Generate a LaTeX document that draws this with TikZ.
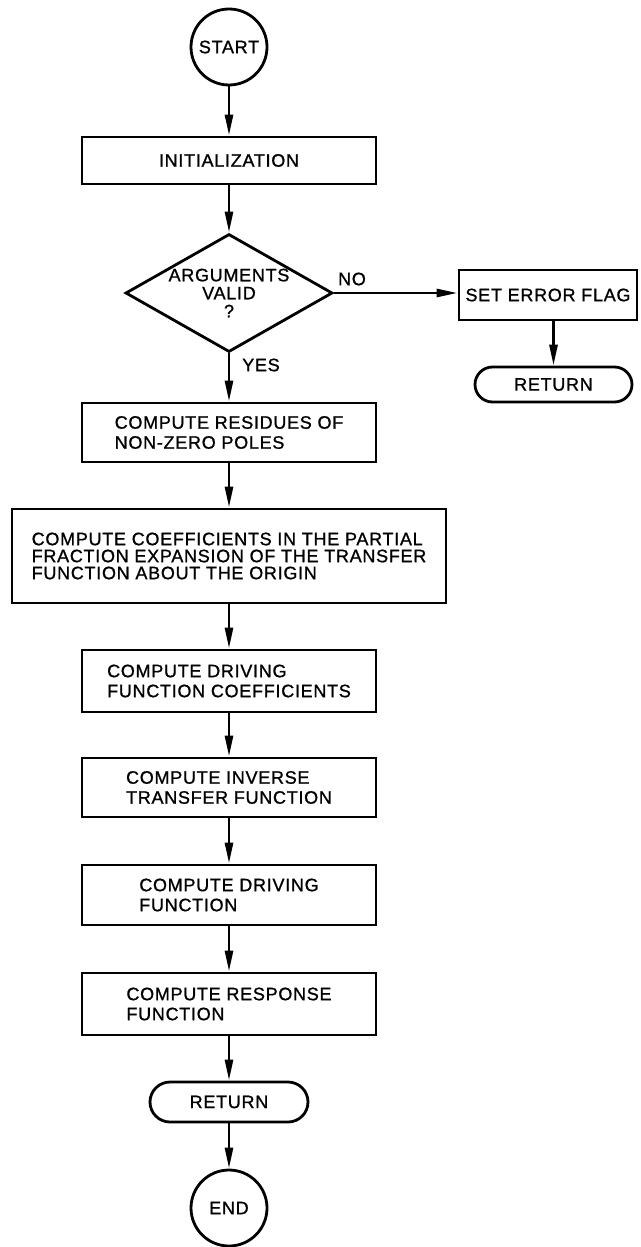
\documentclass[tikz,border=0pt]{standalone}
\usepackage{fontspec}
\setmainfont[LetterSpace=4,FakeBold=1]{Liberation Sans}
\usetikzlibrary{arrows.meta,shapes.geometric}

\begin{document}
\begin{tikzpicture}[x=1pt,y=-1pt,
  line width=2.8pt,
  every node/.style={font=\fontsize{18}{20}\selectfont, inner sep=0pt},
  proc/.style={draw, rectangle, align=left},
  term/.style={draw, rectangle, rounded corners=#1, align=center},
  conn/.style={draw, circle, align=center},
  decision/.style={draw, diamond, aspect=1.75, align=center},
  flow/.style={-{Triangle[length=21pt,width=8pt]}}]

\useasboundingbox (0,0) rectangle (640,1247);

% main column
\node[conn, minimum size=76] (start) at (229,47) {START};
\node[proc, minimum width=294, minimum height=47] (init) at (229,160.5) {INITIALIZATION};
\node[decision, minimum width=207, minimum height=118,
      font=\fontsize{18}{18}\selectfont] (valid) at (229,293) {ARGUMENTS\\VALID\\?};
\node[proc, minimum width=294, minimum height=59] (resid) at (229,432.5)
  {COMPUTE RESIDUES OF\\NON-ZERO POLES};
\node[proc, minimum width=434, minimum height=94,
      font=\fontsize{18}{17}\selectfont] (coeff) at (229,556)
  {COMPUTE COEFFICIENTS IN THE PARTIAL\\FRACTION EXPANSION OF THE TRANSFER\\FUNCTION ABOUT THE ORIGIN};
\node[proc, minimum width=294, minimum height=62] (drivc) at (229,681)
  {COMPUTE DRIVING\\FUNCTION COEFFICIENTS};
\node[proc, minimum width=294, minimum height=59] (inv) at (229,787.5)
  {COMPUTE INVERSE\\TRANSFER FUNCTION};
\node[proc, minimum width=294, minimum height=60] (driv) at (229,895)
  {COMPUTE DRIVING\\FUNCTION};
\node[proc, minimum width=294, minimum height=62] (resp) at (229,1004)
  {COMPUTE RESPONSE\\FUNCTION};
\node[term=20pt, minimum width=158, minimum height=40] (ret) at (229,1102) {RETURN};
\node[conn, minimum size=76] (stop) at (229,1208) {END};

% error branch
\node[proc, align=center, minimum width=178, minimum height=50] (err) at (548,295) {SET ERROR FLAG};
\node[term=17.5pt, minimum width=157, minimum height=35] (eret) at (553.5,384.5) {RETURN};

% branch labels
\node (no) at (352,279) {NO};
\node (yes) at (261,365) {YES};

% connectors
\draw[flow] (start) -- (init);
\draw[flow] (init) -- (valid);
\draw[flow] (valid.east) -- (err.west |- valid.east);
\draw[flow] (eret.north |- err.south) -- (eret.north);
\draw[flow] (valid) -- (resid);
\draw[flow] (resid) -- (coeff);
\draw[flow] (coeff) -- (drivc);
\draw[flow] (drivc) -- (inv);
\draw[flow] (inv) -- (driv);
\draw[flow] (driv) -- (resp);
\draw[flow] (resp) -- (ret);
\draw[flow] (ret) -- (stop);
\end{tikzpicture}
\end{document}
